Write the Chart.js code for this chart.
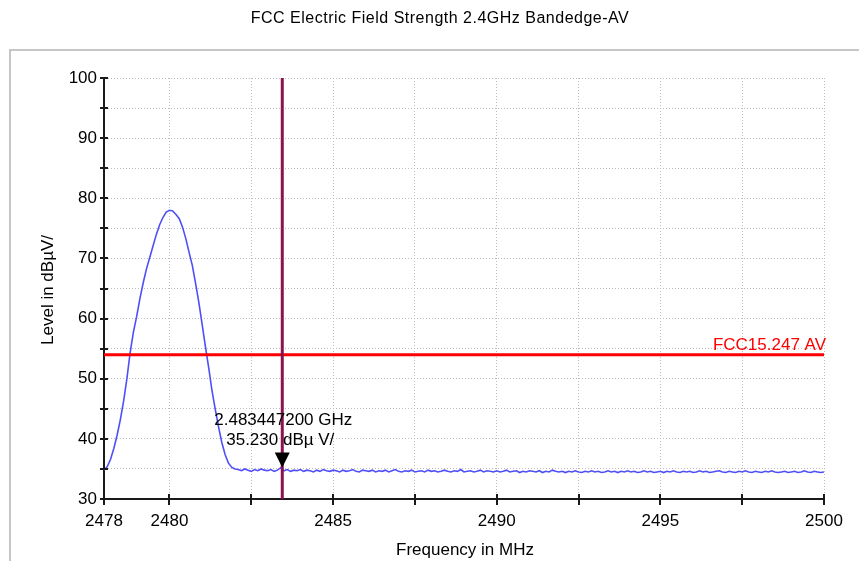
<!DOCTYPE html>
<html>
<head>
<meta charset="utf-8">
<script src="https://cdn.jsdelivr.net/npm/chart.js@4.4.1/dist/chart.umd.min.js"></script>
<style>
  html, body { margin: 0; padding: 0; background: #ffffff; }
  #wrap { width: 859px; height: 561px; position: relative; }
</style>
</head>
<body>
<div id="wrap"><canvas id="c" width="859" height="561"></canvas></div>
<script>
// ---------------- DATA ----------------
const chartTitle = "FCC Electric Field Strength 2.4GHz Bandedge-AV";
const xAxisTitle = "Frequency in MHz";
const yAxisTitle = "Level in dBµV/";

// Sweep frequencies (MHz)
const freqs = [
  2478.0,2478.1,2478.2,2478.3,2478.4,2478.5,2478.6,2478.7,2478.8,2478.9,
  2479.0,2479.1,2479.2,2479.3,2479.4,2479.5,2479.6,2479.7,2479.8,2479.9,
  2480.0,2480.1,2480.2,2480.3,2480.4,2480.5,2480.6,2480.7,2480.8,2480.9,
  2481.0,2481.1,2481.2,2481.3,2481.4,2481.5,2481.6,2481.7,2481.8,2481.9,
  2482.0,2482.1,2482.2,2482.3,2482.4,2482.5,2482.6,2482.7,2482.8,2482.9,
  2483.0,2483.1,2483.2,2483.3,2483.4,2483.5,2483.6,2483.7,2483.8,2483.9,
  2484.0,2484.1,2484.2,2484.3,2484.4,2484.5,2484.6,2484.7,2484.8,2484.9,
  2485.0,2485.1,2485.2,2485.3,2485.4,2485.5,2485.6,2485.7,2485.8,2485.9,
  2486.0,2486.1,2486.2,2486.3,2486.4,2486.5,2486.6,2486.7,2486.8,2486.9,
  2487.0,2487.1,2487.2,2487.3,2487.4,2487.5,2487.6,2487.7,2487.8,2487.9,
  2488.0,2488.1,2488.2,2488.3,2488.4,2488.5,2488.6,2488.7,2488.8,2488.9,
  2489.0,2489.1,2489.2,2489.3,2489.4,2489.5,2489.6,2489.7,2489.8,2489.9,
  2490.0,2490.1,2490.2,2490.3,2490.4,2490.5,2490.6,2490.7,2490.8,2490.9,
  2491.0,2491.1,2491.2,2491.3,2491.4,2491.5,2491.6,2491.7,2491.8,2491.9,
  2492.0,2492.1,2492.2,2492.3,2492.4,2492.5,2492.6,2492.7,2492.8,2492.9,
  2493.0,2493.1,2493.2,2493.3,2493.4,2493.5,2493.6,2493.7,2493.8,2493.9,
  2494.0,2494.1,2494.2,2494.3,2494.4,2494.5,2494.6,2494.7,2494.8,2494.9,
  2495.0,2495.1,2495.2,2495.3,2495.4,2495.5,2495.6,2495.7,2495.8,2495.9,
  2496.0,2496.1,2496.2,2496.3,2496.4,2496.5,2496.6,2496.7,2496.8,2496.9,
  2497.0,2497.1,2497.2,2497.3,2497.4,2497.5,2497.6,2497.7,2497.8,2497.9,
  2498.0,2498.1,2498.2,2498.3,2498.4,2498.5,2498.6,2498.7,2498.8,2498.9,
  2499.0,2499.1,2499.2,2499.3,2499.4,2499.5,2499.6,2499.7,2499.8,2499.9,
  2500.0
];

// Measured level (dBµV/m), one per frequency
const levels = [
  34.8,35.4,36.6,38.4,40.6,43.2,46.3,50.0,54.4,57.8,
  60.4,63.4,66.0,68.3,70.2,72.1,74.0,75.6,76.8,77.7,
  78.0,77.9,77.3,76.6,75.2,73.3,71.0,68.8,65.8,62.6,
  59.0,55.3,51.8,48.0,44.9,42.0,39.4,37.4,36.0,35.3,
  35.0,34.9,34.7,35.0,34.8,34.6,34.9,34.7,35.0,34.8,
  34.7,34.9,34.6,34.8,35.2,34.7,34.9,34.6,34.8,34.7,
  34.9,34.6,34.8,34.7,34.5,34.8,34.6,34.9,34.7,34.6,
  34.8,34.7,34.5,34.8,34.6,34.7,34.9,34.6,34.5,34.8,
  34.7,34.6,34.8,34.5,34.7,34.6,34.8,34.5,34.7,34.9,
  34.6,34.5,34.7,34.6,34.8,34.5,34.6,34.7,34.5,34.8,
  34.6,34.7,34.5,34.6,34.8,34.6,34.5,34.7,34.6,34.9,
  34.5,34.6,34.7,34.5,34.6,34.8,34.5,34.7,34.6,34.5,
  34.7,34.5,34.6,34.8,34.5,34.6,34.7,34.4,34.6,34.5,
  34.7,34.6,34.5,34.7,34.4,34.6,34.5,34.8,34.6,34.5,
  34.6,34.4,34.6,34.5,34.7,34.5,34.4,34.6,34.5,34.7,
  34.5,34.6,34.4,34.5,34.7,34.5,34.6,34.4,34.6,34.5,
  34.7,34.5,34.6,34.4,34.5,34.7,34.5,34.6,34.4,34.5,
  34.6,34.4,34.6,34.5,34.7,34.5,34.4,34.6,34.5,34.6,
  34.4,34.5,34.7,34.5,34.6,34.4,34.5,34.6,34.7,34.5,
  34.4,34.6,34.5,34.4,34.6,34.5,34.7,34.5,34.4,34.6,
  34.5,34.4,34.6,34.5,34.7,34.5,34.4,34.5,34.6,34.4,
  34.5,34.6,34.4,34.5,34.7,34.5,34.4,34.6,34.5,34.4,
  34.5
];

// Limit line
const limitLabel = "FCC15.247 AV";
const limitLevel = 54;

// Marker
const markerFreq = 2483.4472;
const markerLevel = 35.23;
const markerLines = ["2.483447200 GHz", "35.230 dBµ V/"];

// Axes
const xMin = 2478, xMax = 2500;
const yMin = 30, yMax = 100;
const xTickValues = [2478, 2480, 2482.5, 2485, 2487.5, 2490, 2492.5, 2495, 2497.5, 2500];
const xTickLabels = [2478, 2480, 2485, 2490, 2495, 2500];
const yTickValues = [30, 35, 40, 45, 50, 55, 60, 65, 70, 75, 80, 85, 90, 95, 100];
const yTickLabels = [30, 40, 50, 60, 70, 80, 90, 100];

// ---------------- CHART ----------------
const FONT = "'Liberation Sans', Arial, sans-serif";
const traceData = freqs.map((f, i) => ({ x: f, y: levels[i] }));

const decor = {
  id: 'decor',
  beforeDraw(chart) {
    const ctx = chart.ctx;
    ctx.save();
    ctx.fillStyle = '#ffffff';
    ctx.fillRect(0, 0, chart.width, chart.height);
    ctx.strokeStyle = '#c6c6c6';
    ctx.lineWidth = 2;
    ctx.strokeRect(10, 50, 900, 600);
    // title
    ctx.fillStyle = '#000';
    ctx.font = '16px ' + FONT;
    ctx.textAlign = 'center';
    ctx.textBaseline = 'middle';
    ctx.letterSpacing = '0.5px';
    ctx.fillText(chartTitle, 440, 19);
    ctx.letterSpacing = '0px';
    ctx.restore();
  },
  afterDatasetsDraw(chart) {
    const ctx = chart.ctx;
    const xs = chart.scales.x, ys = chart.scales.y;
    const ca = chart.chartArea;
    ctx.save();
    // marker triangle
    const mx = xs.getPixelForValue(markerFreq);
    const my = ys.getPixelForValue(markerLevel);
    ctx.fillStyle = '#000';
    ctx.beginPath();
    ctx.moveTo(mx, my);
    ctx.lineTo(mx - 7.5, my - 15);
    ctx.lineTo(mx + 7.5, my - 15);
    ctx.closePath();
    ctx.fill();
    // marker labels
    ctx.font = '17px ' + FONT;
    ctx.textAlign = 'center';
    ctx.textBaseline = 'middle';
    ctx.fillText(markerLines[0], mx + 1, my - 47);
    ctx.fillText(markerLines[1], mx - 2, my - 27);
    // limit label
    ctx.fillStyle = '#ff0000';
    ctx.textAlign = 'right';
    ctx.fillText(limitLabel, ca.right + 2, ys.getPixelForValue(limitLevel) - 9);
    // axis ticks crossing the axes
    ctx.strokeStyle = '#1a1a1a';
    ctx.lineWidth = 2;
    yTickValues.forEach(v => {
      const y = Math.round(ys.getPixelForValue(v));
      ctx.beginPath();
      ctx.moveTo(ca.left - 4, y);
      ctx.lineTo(ca.left + 4, y);
      ctx.stroke();
    });
    xTickValues.forEach(v => {
      const x = Math.round(xs.getPixelForValue(v));
      ctx.beginPath();
      ctx.moveTo(x, ca.bottom - 5);
      ctx.lineTo(x, ca.bottom + 6);
      ctx.stroke();
    });
    // axis titles
    ctx.fillStyle = '#000';
    ctx.font = '17px ' + FONT;
    ctx.textAlign = 'center';
    ctx.textBaseline = 'middle';
    ctx.fillText(xAxisTitle, 465, 550);
    ctx.translate(48, 290);
    ctx.rotate(-Math.PI / 2);
    ctx.fillText(yAxisTitle, 0, 0);
    ctx.restore();
  }
};

new Chart(document.getElementById('c'), {
  type: 'line',
  plugins: [decor],
  data: {
    datasets: [
      {
        label: 'marker',
        data: [{ x: markerFreq, y: yMin }, { x: markerFreq, y: yMax }],
        borderColor: '#8c1150',
        borderWidth: 3,
        pointRadius: 0,
        order: 0
      },
      {
        label: 'limit',
        data: [{ x: xMin, y: limitLevel }, { x: xMax, y: limitLevel }],
        borderColor: '#ff0000',
        borderWidth: 3,
        pointRadius: 0,
        order: 1
      },
      {
        label: 'trace',
        data: traceData,
        borderColor: '#4f4ff7',
        borderWidth: 1.6,
        pointRadius: 0,
        tension: 0,
        order: 2
      }
    ]
  },
  options: {
    responsive: false,
    animation: false,
    devicePixelRatio: 1,
    layout: { padding: { left: 0, right: 35, top: 78, bottom: 0 } },
    plugins: { legend: { display: false }, tooltip: { enabled: false }, title: { display: false } },
    scales: {
      x: {
        type: 'linear',
        min: xMin, max: xMax,
        afterBuildTicks(scale) { scale.ticks = xTickValues.map(v => ({ value: v })); },
        afterFit(scale) { scale.height = 62; },
        ticks: {
          autoSkip: false,
          maxRotation: 0,
          padding: 12,
          color: '#000',
          font: { family: FONT, size: 17 },
          callback: v => (xTickLabels.includes(v) ? String(v) : '')
        },
        grid: {
          drawTicks: false,
          color: '#bdbdbd',
          lineWidth: 1
        },
        border: { display: true, color: '#1a1a1a', width: 2, dash: [1, 2] },
        title: { display: false }
      },
      y: {
        type: 'linear',
        min: yMin, max: yMax,
        afterBuildTicks(scale) { scale.ticks = yTickValues.map(v => ({ value: v })); },
        afterFit(scale) { scale.width = 104; },
        ticks: {
          autoSkip: false,
          padding: 7,
          color: '#000',
          font: { family: FONT, size: 17 },
          callback: v => (yTickLabels.includes(v) ? String(v) : '')
        },
        grid: {
          drawTicks: false,
          color: '#bdbdbd',
          lineWidth: 1
        },
        border: { display: true, color: '#1a1a1a', width: 2, dash: [1, 2] },
        title: { display: false }
      }
    }
  }
});
</script>
</body>
</html>
